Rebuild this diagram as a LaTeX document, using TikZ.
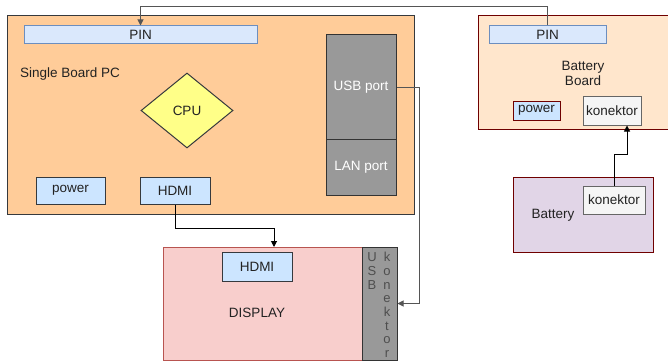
\documentclass[tikz,border=0pt]{standalone}
\usepackage{fontspec}
\setmainfont{Liberation Sans}
\usetikzlibrary{shapes.geometric,arrows.meta}
\definecolor{sbcfill}{HTML}{FFCC99}
\definecolor{dkline}{HTML}{36393D}
\definecolor{pinfill}{HTML}{DAE8FC}
\definecolor{pinline}{HTML}{6C8EBF}
\definecolor{bluefill}{HTML}{CCE5FF}
\definecolor{cpufill}{HTML}{FFFF88}
\definecolor{portfill}{HTML}{999999}
\definecolor{bbfill}{HTML}{FFE6CC}
\definecolor{bbline}{HTML}{6F0000}
\definecolor{konfill}{HTML}{F5F5F5}
\definecolor{konline}{HTML}{666666}
\definecolor{batfill}{HTML}{E1D5E7}
\definecolor{dispfill}{HTML}{F8CECC}
\definecolor{displine}{HTML}{B85450}
\definecolor{txt}{HTML}{222222}
\definecolor{wire}{HTML}{555555}
\tikzset{
  box/.style={rectangle, draw, line width=1pt, inner sep=0pt, text=txt,
    font=\fontsize{13.5}{15}\selectfont},
  plain/.style={inner sep=0pt, text=txt, font=\fontsize{13.5}{15}\selectfont},
  arr/.style={line width=1pt, -{Triangle[length=6pt,width=6pt]}},
}
\begin{document}
\begin{tikzpicture}[x=1pt,y=-1pt]
\useasboundingbox (0,0) rectangle (668,361);
\fill[white] (0,0) rectangle (668,361);
% Single Board PC
\node[box, fill=sbcfill, draw=dkline, minimum width=407pt, minimum height=198pt] (sbc) at (210.5,115) {};
\node[box, fill=pinfill, draw=pinline, minimum width=233pt, minimum height=18pt] (pin1) at (140.5,35) {PIN};
\node[plain, anchor=west] (sbctxt) at (20,74) {Single Board PC};
\node[box, diamond, fill=cpufill, draw=dkline, minimum width=92pt, minimum height=75pt] (cpu) at (187,110.5) {CPU};
\node[box, fill=portfill, draw=black!80, minimum width=70pt, minimum height=104pt, text=white] (usb) at (361,87) {USB port};
\node[box, fill=portfill, draw=black!80, minimum width=70pt, minimum height=56pt, text=white] (lan) at (361,167) {LAN port};
\node[box, fill=bluefill, draw=dkline, minimum width=69pt, minimum height=27pt] (power1) at (70.5,190.5) {power};
\node[box, fill=bluefill, draw=dkline, minimum width=70pt, minimum height=27pt] (hdmi1) at (175,190.5) {HDMI};
% Battery Board
\node[box, fill=bbfill, draw=bbline, minimum width=202pt, minimum height=113pt] (bb) at (579,72.5) {};
\node[box, fill=pinfill, draw=pinline, minimum width=117pt, minimum height=18pt] (pin2) at (547.5,35) {PIN};
\node[plain, align=center] (bbtxt) at (583,73.5) {Battery\\Board};
\node[box, fill=bluefill, draw=bbline, minimum width=47pt, minimum height=19pt] (power2) at (536.5,110.5) {power};
\node[box, fill=konfill, draw=konline, minimum width=58pt, minimum height=29pt] (kon2) at (612,110.5) {konektor};
% Battery
\node[box, fill=batfill, draw=bbline, minimum width=140pt, minimum height=75pt] (bat) at (583,214.5) {};
\node[plain] (battxt) at (553,215) {Battery};
\node[box, fill=konfill, draw=konline, minimum width=62pt, minimum height=28pt] (kon3) at (614,200) {konektor};
% Display
\node[box, fill=dispfill, draw=displine, minimum width=199pt, minimum height=113pt] (disp) at (262.5,303.5) {};
\node[box, fill=portfill, draw=black!80, minimum width=35pt, minimum height=113pt] (usbk) at (379.5,303.5) {};
\node[box, fill=bluefill, draw=dkline, minimum width=70pt, minimum height=29pt] (hdmi2) at (257,266.5) {HDMI};
\node[plain] (disptxt) at (257,313) {DISPLAY};
\node[plain, align=center, text=txt!80, font=\fontsize{13}{13.7}\selectfont] (usbtxt) at (372,271) {U\\S\\B};
\node[plain, align=center, text=txt!80, font=\fontsize{13}{13.7}\selectfont] (kontxt) at (387,305) {k\\o\\n\\e\\k\\t\\o\\r};
% connectors
\coordinate (topy) at (0,7);
\coordinate (hdy) at (0,228);
\coordinate (dispin) at (274,247);
\draw[arr, wire] (pin2.north) -- (pin2.north |- topy) -| (pin1.north);
\draw[arr, black] (hdmi1.south) -- (hdmi1.south |- hdy) -| (dispin);
\draw[arr, wire] (usb.east) -- ++(23,0) |- (usbk.east);
\draw[arr, black] (kon3.north) -- ++(0,-31) -| ([xshift=15pt]kon2.south);
\end{tikzpicture}
\end{document}
